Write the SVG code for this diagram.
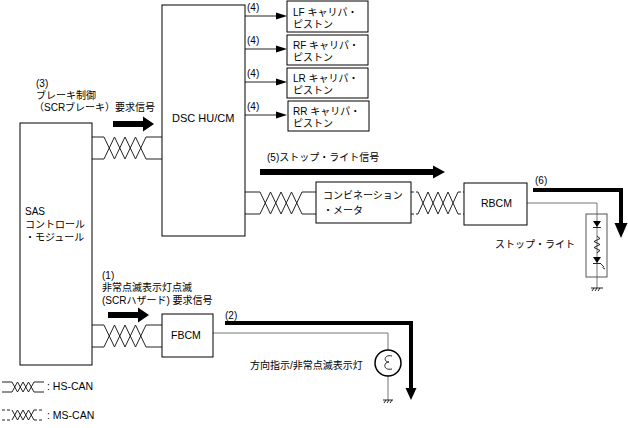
<svg xmlns="http://www.w3.org/2000/svg" width="628" height="428" viewBox="0 0 628 428">
<style>
text{font-family:"Liberation Sans","Noto Sans CJK JP",sans-serif;font-size:10px;fill:#000}
text.l{font-size:10.5px}
.box{fill:#fff;stroke:#000;stroke-width:1}
.w{fill:none;stroke:#222;stroke-width:1}
.wd{fill:none;stroke:#222;stroke-width:1;stroke-dasharray:3 2}
.thin{fill:none;stroke:#777;stroke-width:1}
.thick{fill:none;stroke:#000;stroke-width:4}
.blk{fill:#000;stroke:none}
</style>
<rect width="628" height="428" fill="#fff"/>
<g id="connectors">
  <path class="w" d="M92 137H104L114.5 159L125 137L135.5 159L146 137H162"/>
  <path class="w" d="M92 159H104L114.5 137L125 159L135.5 137L146 159H162"/>
  <path class="w" d="M92 325H104L114.5 347L125 325L135.5 347L146 325H162"/>
  <path class="w" d="M92 347H104L114.5 325L125 347L135.5 325L146 347H162"/>
  <path class="w" d="M245 192H260L270.5 214L281 192L291.5 214L302 192H316"/>
  <path class="w" d="M245 214H260L270.5 192L281 214L291.5 192L302 214H316"/>
  <path class="wd" d="M411 192H418M458 192H464M411 214H418M458 214H464"/>
  <path class="w" d="M418 192L428 214L438 192L448 214L458 192"/>
  <path class="w" d="M418 214L428 192L438 214L448 192L458 214"/>
  <g class="w">
    <path d="M245 16H277"/><path d="M245 49H277"/><path d="M245 82H277"/><path d="M245 115H277"/>
  </g>
  <path class="blk" d="M276 12.5L287 16L276 19.5Z"/>
  <path class="blk" d="M276 45.5L287 49L276 52.5Z"/>
  <path class="blk" d="M276 78.5L287 82L276 85.5Z"/>
  <path class="blk" d="M276 111.5L287 115L276 118.5Z"/>
  <path class="blk" d="M113 121H143V116.5L154 124L143 131.5V127H113Z"/>
  <path class="blk" d="M108 312H138V307.5L149 315L138 322.5V318H108Z"/>
  <path class="blk" d="M260 169H433V165.5L445 172L433 178.5V175H260Z"/>
  <path class="thick" d="M533 190H621V225"/>
  <path class="blk" d="M614.5 223H627.5L621 238Z"/>
  <path class="thick" d="M225 323H411V390"/>
  <path class="blk" d="M405.5 388H416.5L411 400Z"/>
  <path class="thin" d="M527 203H597V288"/>
  <path class="thin" d="M213 333H388V350M388 376V400"/>
</g>
<g id="labels">
  <text x="36" y="87">(3)</text>
  <text x="36" y="99">ブレーキ制御</text>
  <text x="34" y="111">（SCRブレーキ）要求信号</text>
  <text x="102" y="279">(1)</text>
  <text x="102" y="291">非常点滅表示灯点滅</text>
  <text x="102" y="304">(SCRハザード) 要求信号</text>
  <text x="247" y="11">(4)</text>
  <text x="247" y="44">(4)</text>
  <text x="247" y="77">(4)</text>
  <text x="247" y="110">(4)</text>
  <text x="267" y="161">(5)ストップ・ライト信号</text>
  <text x="535" y="184">(6)</text>
  <text x="225" y="319">(2)</text>
</g>
<g id="sas">
  <rect class="box" x="20" y="123" width="72" height="242"/>
  <text x="25" y="215">SAS</text>
  <text x="25" y="228">コントロール</text>
  <text x="25" y="241">・モジュール</text>
</g>
<g id="dsc">
  <rect class="box" x="162" y="5" width="83" height="231"/>
  <text x="172" y="122" style="font-size:11px">DSC HU/CM</text>
</g>
<g id="lf">
  <rect class="box" x="287" y="1" width="81" height="31"/>
  <text x="293" y="16">LF キャリパ・</text>
  <text x="293" y="28">ピストン</text>
</g>
<g id="rf">
  <rect class="box" x="287" y="35" width="81" height="30"/>
  <text x="293" y="49">RF キャリパ・</text>
  <text x="293" y="61">ピストン</text>
</g>
<g id="lr">
  <rect class="box" x="287" y="68" width="81" height="30"/>
  <text x="293" y="82">LR キャリパ・</text>
  <text x="293" y="94">ピストン</text>
</g>
<g id="rr">
  <rect class="box" x="288" y="101" width="81" height="30"/>
  <text x="293" y="115">RR キャリパ・</text>
  <text x="293" y="127">ピストン</text>
</g>
<g id="combination-meter">
  <rect class="box" x="316" y="182" width="95" height="41"/>
  <text x="323" y="199">コンビネーション</text>
  <text x="323" y="214">・メータ</text>
</g>
<g id="rbcm">
  <rect class="box" x="464" y="183" width="63" height="42"/>
  <text class="l" x="481" y="207">RBCM</text>
</g>
<g id="fbcm">
  <rect class="box" x="162" y="314" width="51" height="43"/>
  <text class="l" x="171" y="339">FBCM</text>
</g>
<g id="stop-light">
  <rect x="586" y="214" width="21" height="63" style="fill:none;stroke:#555"/>
  <path class="blk" d="M593 221H601L597 227Z"/>
  <path class="w" d="M593 227.5H601"/>
  <path class="w" d="M597 236L600 238.5L594 241.5L600 244.5L594 247.5L600 250.5L597 253"/>
  <path class="blk" d="M593 257H601L597 263Z"/>
  <path class="w" d="M593 263.5H601M601 264L604 267M602.5 267.5L605 269"/>
  <path class="w" d="M591 288H603M592 291L594 288M595 291L597 288M598 291L600 288"/>
  <text x="495" y="248">ストップ・ライト</text>
</g>
<g id="lamp">
  <circle cx="388" cy="363" r="13" fill="#fff" stroke="#000" stroke-width="1.5"/>
  <path class="w" d="M392 356C384 354 383 362 389 362C383 362 383 371 392 369"/>
  <path class="w" d="M383 400H393M384 403L386 400M387 403L389 400M390 403L392 400"/>
  <text x="250" y="369">方向指示/非常点滅表示灯</text>
</g>
<g id="legend">
  <path class="w" d="M2 382H12L17.5 392L23 382L28.5 392L34 382H44"/>
  <path class="w" d="M2 392H12L17.5 382L23 392L28.5 382L34 392H44"/>
  <text class="l" x="47" y="390">: HS-CAN</text>
  <path class="wd" d="M2 410H12M34 410H44M2 420H12M34 420H44"/>
  <path class="w" d="M12 410L17.5 420L23 410L28.5 420L34 410"/>
  <path class="w" d="M12 420L17.5 410L23 420L28.5 410L34 420"/>
  <text class="l" x="47" y="419">: MS-CAN</text>
</g>
</svg>
